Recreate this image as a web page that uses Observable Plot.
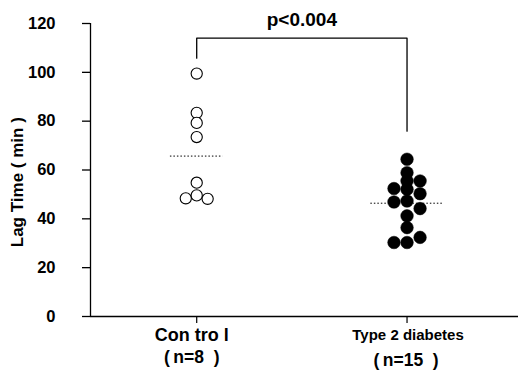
<!DOCTYPE html>
<html>
<head>
<meta charset="utf-8">
<script src="https://cdn.jsdelivr.net/npm/d3@7"></script>
<script src="https://cdn.jsdelivr.net/npm/@observablehq/plot@0.6"></script>
<style>
  html, body { margin: 0; padding: 0; background: #fff; }
  #chart svg { display: block; }
</style>
</head>
<body>
<div id="chart"></div>
<script>
// ---- data ----
const groups = ["Control", "Type 2 diabetes"];
const groupLine1 = ["Con tro l", "Type 2 diabetes"];
const groupLine2 = ["(\u2009n=8\u00A0\u00A0)", "(\u2009n=15\u00A0\u00A0)"];

// Control (n=8): lag time in minutes, and its column in the scatter (-1 left, 0 centre, 1 right)
const controlValues = [99.5, 83.4, 79.3, 73.5, 54.8, 48.4, 49.6, 48.2];
const controlSlots  = [0, 0, 0, 0, 0, -1, 0, 1];

// Type 2 diabetes (n=15)
const diabetesValues = [64.4, 58.9, 55.5, 55.5, 52.4, 52.1, 50.3, 46.9, 47.3, 44.2, 41.2, 36.4, 30.3, 30.3, 32.4];
const diabetesSlots  = [0, 0, 0, 1, -1, 0, 1, -1, 0, 1, 0, 0, -1, 0, 1];

// Group means (dotted lines)
const groupMeans = [65.7, 46.4];

// Significance bracket: left leg bottom, top, right leg bottom
const bracketLeftBottom = 105.8;
const bracketTop = 114;
const bracketRightBottom = 75.9;
const pLabel = "p<0.004";

const yTicks = [0, 20, 40, 60, 80, 100, 120];
const yLabel = "Lag Time ( min )";

// ---- build tables ----
const spread = [0.052, 0.062];
const meanHalfWidth = [0.125, 0.172];
const points = [
  ...controlValues.map((v, i) => ({g: 0, slot: controlSlots[i], v})),
  ...diabetesValues.map((v, i) => ({g: 1, slot: diabetesSlots[i], v}))
];
const means = groupMeans.map((m, g) => ({g, m}));
const bracket = [
  {x: 0, y: bracketLeftBottom},
  {x: 0, y: bracketTop},
  {x: 1, y: bracketTop},
  {x: 1, y: bracketRightBottom}
];
const labels = groups.map((name, g) => ({g, name, l1: groupLine1[g], l2: groupLine2[g]}));

const font = "'Liberation Sans', Arial, Helvetica, sans-serif";

const chart = Plot.plot({
  width: 518,
  height: 375,
  marginTop: 23,
  marginBottom: 59,
  marginLeft: 90,
  marginRight: 0,
  style: {fontFamily: font, background: "#fff", color: "#000"},
  x: {domain: [-0.505, 1.53], axis: null},
  y: {domain: [0, 120], axis: null},
  marks: [
    // y axis: ticks + labels
    Plot.axisY({
      ticks: yTicks, tickSize: 8, tickPadding: 27, label: null,
      fontSize: 16.5, fontWeight: "bold", stroke: "#000", strokeWidth: 1.3
    }),
    // x axis ticks (labels drawn below as text)
    Plot.axisX({
      ticks: [0, 1], tickSize: 7, tickFormat: () => "", label: null,
      stroke: "#000", strokeWidth: 1.2
    }),
    Plot.ruleX([-0.505], {y1: 0, y2: 120, stroke: "#000", strokeWidth: 1.3}),
    Plot.ruleY([0], {stroke: "#000", strokeWidth: 1.6}),
    // y axis title
    Plot.text([yLabel], {
      frameAnchor: "left", y: 55, dx: -73, text: d => d, rotate: -90, textAnchor: "middle",
      fontSize: 17, fontWeight: "bold", fill: "#000"
    }),
    // group labels
    Plot.text(labels.filter(d => d.g === 0), {
      x: "g", frameAnchor: "bottom", text: "l1", dx: -5, dy: 19,
      fontSize: 18, fontWeight: "bold", lineAnchor: "middle", fill: "#000"
    }),
    Plot.text(labels.filter(d => d.g === 0), {
      x: "g", frameAnchor: "bottom", text: "l2", dx: -5, dy: 41,
      fontSize: 17.5, fontWeight: "bold", lineAnchor: "middle", fill: "#000"
    }),
    Plot.text(labels.filter(d => d.g === 1), {
      x: "g", frameAnchor: "bottom", text: "l1", dx: 1, dy: 19,
      fontSize: 15, fontWeight: "bold", lineAnchor: "middle", fill: "#000"
    }),
    Plot.text(labels.filter(d => d.g === 1), {
      x: "g", frameAnchor: "bottom", text: "l2", dx: -1, dy: 44,
      fontSize: 17.5, fontWeight: "bold", lineAnchor: "middle", fill: "#000"
    }),
    // significance bracket
    Plot.line(bracket, {x: "x", y: "y", stroke: "#000", strokeWidth: 1.3}),
    Plot.text([pLabel], {
      x: 0.5, y: 121.5, text: d => d, fontSize: 19, fontWeight: "bold",
      lineAnchor: "middle", fill: "#000", clip: false
    }),
    // mean lines
    Plot.ruleY(means, {
      y: "m", x1: d => d.g - meanHalfWidth[d.g], x2: d => d.g + meanHalfWidth[d.g],
      stroke: "#000", strokeWidth: 1, strokeDasharray: "1.5,2"
    }),
    // control: open circles
    Plot.dot(points.filter(d => d.g === 0), {
      x: d => d.g + d.slot * spread[d.g], y: "v", r: 5.6,
      fill: "#fff", stroke: "#000", strokeWidth: 1.1
    }),
    // diabetes: filled circles
    Plot.dot(points.filter(d => d.g === 1), {
      x: d => d.g + d.slot * spread[d.g], y: "v", r: 6.3,
      fill: "#000", stroke: "#000", strokeWidth: 0.5
    })
  ]
});

document.getElementById("chart").appendChild(chart);
</script>
</body>
</html>
